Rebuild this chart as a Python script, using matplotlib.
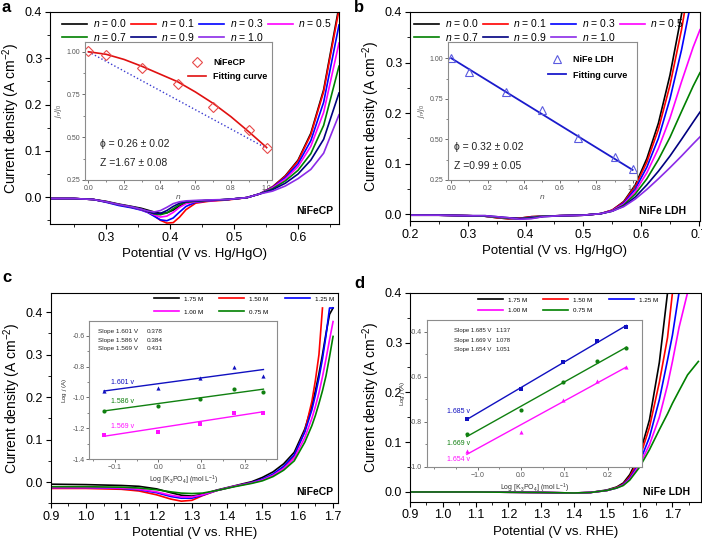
import matplotlib
matplotlib.use('Agg')
import matplotlib.pyplot as plt
from matplotlib.ticker import MultipleLocator, FormatStrFormatter, FixedLocator, FixedFormatter

plt.rcParams['font.family'] = ['Liberation Sans', 'DejaVu Sans']
plt.rcParams['mathtext.fontset'] = 'custom'
plt.rcParams['mathtext.rm'] = 'Liberation Sans'
plt.rcParams['mathtext.it'] = 'Liberation Sans:italic'
plt.rcParams['mathtext.bf'] = 'Liberation Sans:bold'
plt.rcParams['axes.linewidth'] = 0.8

nan = float('nan')

# ---- panel a : NiFeCP, H2O/D2O mixtures (n = D fraction) ----
n_labels = ['0.0', '0.1', '0.3', '0.5', '0.7', '0.9', '1.0']
n_colors = ['#000000', '#ff0000', '#0000ff', '#ff00ff', '#008000', '#000080', '#8b2be8']

va = [0.213, 0.25, 0.28, 0.30, 0.32, 0.34, 0.355, 0.365, 0.375, 0.385, 0.395, 0.405, 0.415,
      0.425, 0.44, 0.46, 0.49, 0.52, 0.54, 0.56, 0.58, 0.60, 0.62, 0.64, 0.664]
ja = [
    [-0.003, -0.003, -0.005, -0.009, -0.015, -0.020, -0.024, -0.028, -0.032, -0.035, -0.034, -0.028, -0.019,
     -0.012, -0.009, -0.007, -0.005, -0.001, 0.007, 0.022, 0.046, 0.080, 0.138, 0.232, 0.412],
    [-0.003, -0.003, -0.005, -0.010, -0.016, -0.022, -0.027, -0.032, -0.040, -0.050, -0.056, -0.055, -0.043,
     -0.027, -0.013, -0.009, -0.006, -0.001, 0.007, 0.022, 0.045, 0.078, 0.135, 0.228, 0.405],
    [-0.003, -0.003, -0.005, -0.011, -0.018, -0.023, -0.028, -0.033, -0.041, -0.049, -0.051, -0.045, -0.032,
     -0.020, -0.011, -0.008, -0.005, -0.001, 0.007, 0.021, 0.042, 0.072, 0.122, 0.205, 0.372],
    [-0.003, -0.003, -0.005, -0.010, -0.016, -0.021, -0.027, -0.032, -0.038, -0.043, -0.041, -0.033, -0.022,
     -0.014, -0.010, -0.008, -0.005, -0.001, 0.007, 0.020, 0.039, 0.066, 0.110, 0.183, 0.333],
    [-0.003, -0.003, -0.005, -0.010, -0.016, -0.021, -0.026, -0.031, -0.036, -0.038, -0.034, -0.025, -0.016,
     -0.011, -0.009, -0.007, -0.005, -0.001, 0.007, 0.018, 0.035, 0.058, 0.094, 0.155, 0.283],
    [-0.003, -0.003, -0.005, -0.010, -0.016, -0.021, -0.026, -0.031, -0.035, -0.035, -0.029, -0.020, -0.013,
     -0.010, -0.008, -0.007, -0.005, -0.001, 0.007, 0.016, 0.030, 0.050, 0.080, 0.125, 0.225],
    [-0.003, -0.003, -0.005, -0.010, -0.016, -0.021, -0.026, -0.030, -0.032, -0.029, -0.022, -0.014, -0.010,
     -0.008, -0.007, -0.006, -0.005, -0.001, 0.007, 0.013, 0.024, 0.040, 0.060, 0.095, 0.178],
]

# inset a
n_pts = [0.0, 0.1, 0.3, 0.5, 0.7, 0.9, 1.0]
ratio_a = [1.004, 0.98, 0.905, 0.81, 0.675, 0.545, 0.435]
n_fit = [0.0, 0.1, 0.2, 0.3, 0.4, 0.5, 0.6, 0.7, 0.8, 0.9, 1.0]
fit_a = [1.0, 0.985, 0.955, 0.915, 0.87, 0.825, 0.765, 0.698, 0.62, 0.532, 0.44]
n_lin = [0.0, 1.0]
lin_a = [1.0, 0.435]

# ---- panel b : NiFe LDH ----
vb = [0.200, 0.250, 0.300, 0.330, 0.350, 0.370, 0.390, 0.410, 0.430, 0.460, 0.500, 0.530, 0.550,
      0.570, 0.590, 0.610, 0.630, 0.650, 0.670, 0.690, 0.702]
jb = [
    [-0.002, -0.002, -0.003, -0.004, -0.007, -0.009, -0.008, -0.005, -0.004, -0.003, -0.002, 0.001, 0.008,
     0.025, 0.058, 0.110, 0.180, 0.275, 0.395, 0.540, 0.640],
    [-0.002, -0.002, -0.003, -0.004, -0.007, -0.009, -0.008, -0.005, -0.004, -0.003, -0.002, 0.001, 0.008,
     0.024, 0.055, 0.103, 0.168, 0.255, 0.365, 0.500, 0.590],
    [-0.002, -0.002, -0.003, -0.004, -0.006, -0.008, -0.009, -0.006, -0.004, -0.003, -0.002, 0.001, 0.007,
     0.022, 0.050, 0.093, 0.150, 0.228, 0.325, 0.440, 0.520],
    [-0.002, -0.002, -0.003, -0.004, -0.006, -0.008, -0.009, -0.007, -0.004, -0.003, -0.002, 0.001, 0.007,
     0.020, 0.045, 0.082, 0.130, 0.190, 0.262, 0.330, 0.365],
    [-0.002, -0.002, -0.003, -0.004, -0.006, -0.008, -0.009, -0.007, -0.004, -0.003, -0.002, 0.001, 0.006,
     0.018, 0.040, 0.070, 0.108, 0.152, 0.203, 0.253, 0.280],
    [-0.002, -0.002, -0.003, -0.003, -0.005, -0.007, -0.009, -0.008, -0.005, -0.003, -0.002, 0.001, 0.006,
     0.016, 0.034, 0.058, 0.085, 0.115, 0.148, 0.182, 0.202],
    [-0.002, -0.002, -0.003, -0.003, -0.005, -0.007, -0.010, -0.009, -0.005, -0.003, -0.002, 0.001, 0.006,
     0.015, 0.030, 0.049, 0.070, 0.092, 0.115, 0.139, 0.153],
]

ratio_b = [1.0, 0.913, 0.794, 0.681, 0.511, 0.394, 0.316]
lin_b = [1.0, 0.312]

# ---- panels c, d : K3PO4 concentration ----
conc_labels = ['1.75 M', '1.50 M', '1.25 M', '1.00 M', '0.75 M']
conc_colors = ['#000000', '#ff0000', '#0000ff', '#ff00ff', '#008000']

vc = [0.90, 1.00, 1.10, 1.15, 1.20, 1.24, 1.27, 1.30, 1.33, 1.37, 1.42, 1.47, 1.50, 1.53, 1.56,
      1.59, 1.62, 1.64, 1.65, 1.66, 1.67, 1.68, 1.69, 1.70]
jc = [
    [-0.005, -0.006, -0.008, -0.010, -0.016, -0.025, -0.031, -0.033, -0.029, -0.019, -0.009, 0.001, 0.011,
     0.024, 0.043, 0.070, 0.125, 0.180, 0.215, 0.255, 0.300, 0.350, 0.395, 0.410],
    [-0.015, -0.015, -0.017, -0.021, -0.030, -0.040, -0.045, -0.043, -0.032, -0.020, -0.010, -0.001, 0.006,
     0.017, 0.035, 0.062, 0.120, 0.190, 0.240, 0.300, 0.410, nan, nan, nan],
    [-0.013, -0.013, -0.015, -0.018, -0.025, -0.034, -0.038, -0.038, -0.031, -0.020, -0.010, -0.001, 0.007,
     0.019, 0.037, 0.064, 0.118, 0.170, 0.205, 0.245, 0.290, 0.345, 0.410, 0.410],
    [-0.013, -0.013, -0.014, -0.017, -0.023, -0.031, -0.035, -0.035, -0.030, -0.020, -0.010, -0.002, 0.005,
     0.016, 0.032, 0.056, 0.105, 0.150, 0.178, 0.210, 0.248, 0.290, 0.335, 0.378],
    [-0.011, -0.011, -0.012, -0.014, -0.018, -0.023, -0.026, -0.027, -0.026, -0.020, -0.011, -0.003, 0.003,
     0.013, 0.028, 0.050, 0.094, 0.133, 0.157, 0.185, 0.215, 0.250, 0.295, 0.343],
]

vd = [0.90, 1.10, 1.30, 1.40, 1.45, 1.50, 1.53, 1.55, 1.57, 1.60, 1.63, 1.66, 1.685, 1.70, 1.72, 1.746, 1.779]
jd = [
    [0.0, 0.0, -0.001, -0.002, -0.001, 0.004, 0.010, 0.018, 0.035, 0.075, 0.145, 0.260, 0.400, nan, nan, nan, nan],
    [0.0, 0.0, -0.001, -0.002, -0.001, 0.003, 0.009, 0.016, 0.031, 0.068, 0.130, 0.220, 0.310, 0.400, nan, nan, nan],
    [0.0, 0.0, -0.001, -0.002, -0.001, 0.003, 0.008, 0.015, 0.028, 0.060, 0.110, 0.185, 0.265, 0.315, 0.400, nan, nan],
    [0.0, 0.0, -0.001, -0.002, -0.001, 0.003, 0.008, 0.014, 0.026, 0.055, 0.095, 0.150, 0.215, 0.262, 0.330, 0.400, nan],
    [0.0, 0.0, -0.001, -0.002, -0.001, 0.003, 0.008, 0.013, 0.024, 0.050, 0.085, 0.125, 0.157, 0.178, 0.203, 0.235, 0.262],
]

log_c = [-0.125, 0.0, 0.097, 0.176, 0.243]
fit_x = [-0.125, 0.243]
c_volts = ['1.601 v', '1.586 v', '1.569 v']
c_slopes = ['0.378', '0.384', '0.431']
c_pts = [[-0.958, -0.941, -0.872, -0.803, -0.859],
         [-1.085, -1.055, -1.010, -0.945, -0.966],
         [-1.243, -1.223, -1.172, -1.102, -1.102]]
c_fit = [[-0.958, -0.819], [-1.087, -0.946], [-1.251, -1.092]]

d_volts = ['1.685 v', '1.669 v', '1.654 v']
d_slopes = ['1.137', '1.078', '1.051']
d_pts = [[-0.789, -0.656, -0.536, -0.441, -0.380],
         [-0.855, -0.749, -0.622, -0.529, -0.471],
         [-0.930, -0.844, -0.704, -0.619, -0.558]]
d_fit = [[-0.790, -0.372], [-0.866, -0.469], [-0.945, -0.557]]

W, H = 702, 541


def box(l, t, r, b):
    return [l / W, 1 - b / H, (r - l) / W, (b - t) / H]


def row_major(ax, ncol, order, **kw):
    # matplotlib fills legend columns first; reorder so entries read across rows
    h, l = ax.get_legend_handles_labels()
    ax.legend([h[i] for i in order], [l[i] for i in order], ncol=ncol, frameon=False,
              loc='upper left', borderaxespad=0, **kw)


def style_main(ax, xlim, ylim, xmaj):
    ax.set_xlim(xlim)
    ax.set_ylim(ylim)
    ax.xaxis.set_major_locator(MultipleLocator(xmaj))
    ax.xaxis.set_minor_locator(MultipleLocator(xmaj / 2))
    ax.yaxis.set_major_locator(MultipleLocator(0.1))
    ax.yaxis.set_minor_locator(MultipleLocator(0.05))
    ax.xaxis.set_major_formatter(FormatStrFormatter('%.1f'))
    ax.yaxis.set_major_formatter(FormatStrFormatter('%.1f'))
    ax.tick_params(which='major', direction='out', length=3.5, width=0.8, labelsize=9, pad=2)
    ax.tick_params(which='minor', direction='out', length=2, width=0.6)
    ax.set_ylabel('Current density (A cm$^{-2}$)', fontsize=10, labelpad=2)


def style_inset(ax, xlim, ylim):
    ax.set_xlim(xlim)
    ax.set_ylim(ylim)
    for s in ax.spines.values():
        s.set_color('#8c8c8c')
        s.set_linewidth(0.8)
    ax.tick_params(which='major', direction='out', length=2, width=0.6, labelsize=5,
                   colors='#555555', pad=1.5)
    ax.tick_params(which='minor', direction='out', length=1.2, width=0.5, colors='#555555')


fig = plt.figure(figsize=(W / 100, H / 100), dpi=100)

# ================= a =================
axa = fig.add_axes(box(50, 12, 339, 224))
for j, lab, col in zip(ja, n_labels, n_colors):
    axa.plot(va, j, color=col, lw=1.2, label='$n$ = ' + lab)
style_main(axa, (0.2125, 0.664), (-0.058, 0.4), 0.1)
axa.set_xlabel('Potential (V vs. Hg/HgO)', fontsize=9.5, labelpad=3)
row_major(axa, 4, [0, 4, 1, 5, 2, 6, 3], fontsize=7.5, bbox_to_anchor=(0.028, 0.995),
          handlelength=2.4, handletextpad=0.55, columnspacing=0.4, labelspacing=0.15)
axa.text(0.979, 0.061, 'NiFeCP', transform=axa.transAxes, ha='right', va='center',
         fontsize=7.5, fontweight='bold')

ia = fig.add_axes(box(85, 42, 272, 180))
ia.plot(n_lin, lin_a, ':', color='#3a3ad0', lw=1.0)
fa, = ia.plot(n_fit, fit_a, color='#e01010', lw=1.2)
pa, = ia.plot(n_pts, ratio_a, 'D', ms=5, mfc='none', mec='#e84a4a', mew=0.8)
style_inset(ia, (-0.019, 1.03), (0.25, 1.057))
ia.xaxis.set_major_locator(MultipleLocator(0.2))
ia.xaxis.set_minor_locator(MultipleLocator(0.1))
ia.xaxis.set_major_formatter(FormatStrFormatter('%.1f'))
ia.yaxis.set_major_locator(MultipleLocator(0.25))
ia.yaxis.set_minor_locator(MultipleLocator(0.125))
ia.yaxis.set_major_formatter(FormatStrFormatter('%.2f'))
ia.set_xlabel('$n$', fontsize=6, color='#555555', labelpad=1)
ia.set_ylabel('$j_n$/$j_0$', fontsize=5.5, color='#555555', labelpad=2)
ia.legend([pa, fa], ['NiFeCP', 'Fitting curve'], frameon=False, loc='upper left',
          bbox_to_anchor=(0.53, 0.91), prop={'weight': 'bold', 'size': 6.5},
          handlelength=2.0, labelspacing=0.6, borderaxespad=0)
ia.text(0.066, 0.46, 'ϕ = 0.26 ± 0.02', fontsize=7.5, va='center', color='#222222')
ia.text(0.066, 0.349, 'Z =1.67 ± 0.08', fontsize=7.5, va='center', color='#222222')

# ================= b =================
axb = fig.add_axes(box(410, 12, 700, 221))
for j, lab, col in zip(jb, n_labels, n_colors):
    axb.plot(vb, j, color=col, lw=1.2, label='$n$ = ' + lab)
style_main(axb, (0.2, 0.702), (-0.0135, 0.4), 0.1)
axb.set_xlabel('Potential (V vs. Hg/HgO)', fontsize=9.5, labelpad=3)
row_major(axb, 4, [0, 4, 1, 5, 2, 6, 3], fontsize=7.5, bbox_to_anchor=(0.0, 0.995),
          handlelength=2.4, handletextpad=0.55, columnspacing=0.4, labelspacing=0.15)
axb.text(0.952, 0.048, 'NiFe LDH', transform=axb.transAxes, ha='right', va='center',
         fontsize=7.5, fontweight='bold')

ib = fig.add_axes(box(448, 42, 637, 180))
fb, = ib.plot(n_lin, lin_b, color='#1a1acc', lw=1.3)
pb, = ib.plot(n_pts, ratio_b, '^', ms=6, mfc='none', mec='#5a5ae0', mew=0.8)
style_inset(ib, (-0.018, 1.024), (0.25, 1.10))
ib.xaxis.set_major_locator(MultipleLocator(0.2))
ib.xaxis.set_minor_locator(MultipleLocator(0.1))
ib.xaxis.set_major_formatter(FormatStrFormatter('%.1f'))
ib.yaxis.set_major_locator(MultipleLocator(0.25))
ib.yaxis.set_minor_locator(MultipleLocator(0.125))
ib.yaxis.set_major_formatter(FormatStrFormatter('%.2f'))
ib.set_xlabel('$n$', fontsize=6, color='#555555', labelpad=1)
ib.set_ylabel('$j_n$/$j_0$', fontsize=5.5, color='#555555', labelpad=2)
ib.legend([pb, fb], ['NiFe LDH', 'Fitting curve'], frameon=False, loc='upper left',
          bbox_to_anchor=(0.51, 0.93), prop={'weight': 'bold', 'size': 6.5},
          handlelength=2.0, labelspacing=0.7, borderaxespad=0)
ib.text(0.017, 0.453, 'ϕ = 0.32 ± 0.02', fontsize=7.5, va='center', color='#222222')
ib.text(0.017, 0.336, 'Z =0.99 ± 0.05', fontsize=7.5, va='center', color='#222222')

# ================= c =================
axc = fig.add_axes(box(50.7, 292.7, 338, 503.3))
for j, lab, col in zip(jc, conc_labels, conc_colors):
    axc.plot(vc, j, color=col, lw=1.2, label=lab)
style_main(axc, (0.9, 1.714), (-0.05, 0.446), 0.1)
axc.set_xlabel('Potential (V vs. RHE)', fontsize=9.5, labelpad=3)
row_major(axc, 3, [0, 3, 1, 4, 2], fontsize=4.5, bbox_to_anchor=(0.35, 0.995),
          handlelength=4.0, handletextpad=0.8, columnspacing=2.6, labelspacing=1.2)
axc.text(0.983, 0.054, 'NiFeCP', transform=axc.transAxes, ha='right', va='center',
         fontsize=7.5, fontweight='bold')

ic = fig.add_axes(box(89.3, 320.7, 277.3, 459.3))
c_style = [('#1010c0', '^'), ('#108010', 'o'), ('#ff10ff', 's')]
for pts, fit, (col, mk) in zip(c_pts, c_fit, c_style):
    ic.plot(log_c, pts, mk, color=col, ms=3, mew=0)
    ic.plot(fit_x, fit, color=col, lw=1.0)
style_inset(ic, (-0.159, 0.275), (-1.4, -0.503))
ic.xaxis.set_major_locator(FixedLocator([-0.1, 0.0, 0.1, 0.2]))
ic.xaxis.set_major_formatter(FixedFormatter(['\u22120.1', '0.0', '0.1', '0.2']))
ic.xaxis.set_minor_locator(MultipleLocator(0.05))
ic.yaxis.set_major_locator(MultipleLocator(0.2))
ic.yaxis.set_minor_locator(MultipleLocator(0.1))
ic.yaxis.set_major_formatter(FormatStrFormatter('%.1f'))
ic.set_xlabel('Log [K$_3$PO$_4$] (mol L$^{-1}$)', fontsize=5, color='#333333', labelpad=2)
ic.set_ylabel('Log $j$ (A)', fontsize=4.5, color='#333333', labelpad=2)
for k, (v, s) in enumerate(zip(c_volts, c_slopes)):
    ic.text(-0.140, -0.570 - 0.058 * k, 'Slope ' + v.replace('v', 'V'), fontsize=4.6, va='center', color='#222222')
    ic.text(-0.026, -0.570 - 0.058 * k, s, fontsize=4.6, va='center', color='#222222')
c_lab_y = [-0.90, -1.023, -1.19]
for v, y, (col, mk) in zip(c_volts, c_lab_y, c_style):
    ic.text(-0.109, y, v, fontsize=5, va='center', color=col)

# ================= d =================
axd = fig.add_axes(box(410, 292.7, 701, 501.7))
for j, lab, col in zip(jd, conc_labels, conc_colors):
    axd.plot(vd, j, color=col, lw=1.2, label=lab)
style_main(axd, (0.9, 1.787), (-0.0195, 0.4), 0.1)
axd.set_xlabel('Potential (V vs. RHE)', fontsize=9.5, labelpad=3)
row_major(axd, 3, [0, 3, 1, 4, 2], fontsize=4.5, bbox_to_anchor=(0.225, 0.99),
          handlelength=4.0, handletextpad=0.8, columnspacing=2.6, labelspacing=0.8)
axd.text(0.962, 0.046, 'NiFe LDH', transform=axd.transAxes, ha='right', va='center',
         fontsize=7.5, fontweight='bold')

idd = fig.add_axes(box(427, 320, 642, 466.7))
d_style = [('#1010c0', 's'), ('#108010', 'o'), ('#ff10ff', '^')]
for pts, fit, (col, mk) in zip(d_pts, d_fit, d_style):
    idd.plot(log_c, pts, mk, color=col, ms=3, mew=0)
    idd.plot(fit_x, fit, color=col, lw=1.0)
style_inset(idd, (-0.217, 0.279), (-1.0, -0.348))
idd.xaxis.set_major_locator(FixedLocator([-0.1, 0.0, 0.1, 0.2]))
idd.xaxis.set_major_formatter(FixedFormatter(['\u22121.0', '0.0', '0.1', '0.2']))
idd.xaxis.set_minor_locator(MultipleLocator(0.05))
idd.yaxis.set_major_locator(MultipleLocator(0.2))
idd.yaxis.set_minor_locator(MultipleLocator(0.1))
idd.yaxis.set_major_formatter(FormatStrFormatter('%.1f'))
idd.set_xlabel('Log [K$_3$PO$_4$] (mol L$^{-1}$)', fontsize=5, color='#333333', labelpad=2)
idd.set_ylabel('Log $j$ (A)', fontsize=4.5, color='#333333', labelpad=2)
for k, (v, s) in enumerate(zip(d_volts, d_slopes)):
    idd.text(-0.155, -0.396 - 0.041 * k, 'Slope ' + v.replace('v', 'V'), fontsize=4.3, va='center', color='#222222')
    idd.text(-0.060, -0.396 - 0.041 * k, s, fontsize=4.3, va='center', color='#222222')
d_lab_y = [-0.756, -0.896, -0.970]
for v, y, (col, mk) in zip(d_volts, d_lab_y, d_style):
    idd.text(-0.170, y, v, fontsize=5, va='center', color=col)

# panel letters
for lab, x, y in [('a', 2, 8), ('b', 354, 8), ('c', 2, 278), ('d', 354, 283)]:
    fig.text(x / W, 1 - y / H, lab, fontsize=12, fontweight='bold', va='center', ha='left')

fig.savefig('out.png', dpi=100)
